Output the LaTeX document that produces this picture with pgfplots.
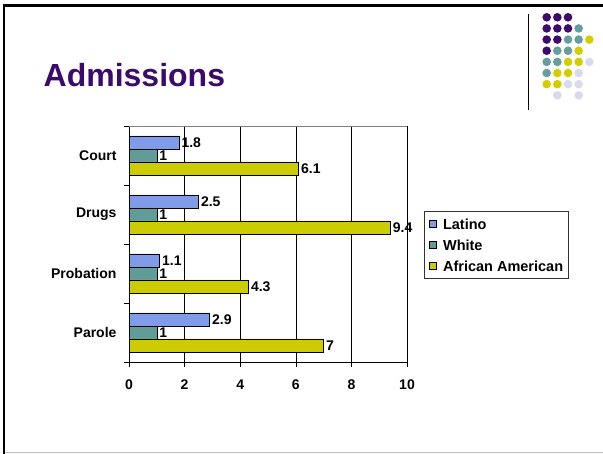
\documentclass[border=0pt]{standalone}
\usepackage{fontspec}
\setmainfont{Liberation Sans}
\usepackage{pgfplots}
\pgfplotsset{compat=1.18}
\definecolor{colLatino}{RGB}{128,156,232}
\definecolor{colWhite}{RGB}{96,156,152}
\definecolor{colAfam}{RGB}{204,204,0}
\definecolor{dP}{RGB}{62,10,110}
\definecolor{dT}{RGB}{102,158,158}
\definecolor{dY}{RGB}{212,206,0}
\definecolor{dL}{RGB}{218,218,238}
\definecolor{titlecol}{RGB}{60,10,108}
\pgfplotsset{sqleg/.style={legend image code/.code={\draw[##1,draw=black,line width=0.6bp] (0bp,-3.8bp) rectangle (7.6bp,3.8bp);}}}
\begin{document}
\begin{tikzpicture}[x=1bp,y=1bp]
\path[use as bounding box] (0,0) rectangle (603,454);
% slide frame
\draw[black!25,line width=1bp] (3,1.3) -- (603,1.3);
\draw[black,line width=2.5bp] (4,0) -- (4,449.5);
\draw[black,line width=2.2bp] (2.8,448.5) -- (603,448.5);
% title
\node[anchor=base west,inner sep=0,text=titlecol,font=\fontsize{32bp}{36bp}\selectfont\bfseries] at (43.5,367.3) {Admissions};
% decoration
\draw[black,line width=1.1bp] (528.3,440) -- (528.3,344);
\foreach \c/\r/\col in {1/1/dP,2/1/dP,3/1/dP,
 1/2/dP,2/2/dP,3/2/dP,4/2/dT,
 1/3/dP,2/3/dP,3/3/dT,4/3/dT,5/3/dY,
 1/4/dP,2/4/dT,3/4/dT,4/4/dY,
 1/5/dT,2/5/dT,3/5/dY,4/5/dY,5/5/dL,
 1/6/dT,2/6/dY,3/6/dY,4/6/dL,
 1/7/dY,2/7/dY,3/7/dL,4/7/dL,
 2/8/dL,4/8/dL}{
  \fill[\col] ({546.7+10.65*(\c-1)},{454-17.3-11.15*(\r-1)}) circle (4.3);
}
\begin{axis}[
  at={(129bp,92bp)}, anchor=south west,
  scale only axis, width=278bp, height=236bp,
  xbar=0pt, bar width=13bp,
  xmin=0, xmax=10, ymin=-0.5, ymax=3.5, y dir=reverse,
  xtick={0,2,...,10},
  ytick={-0.5,0.5,1.5,2.5,3.5}, yticklabels={},
  extra y ticks={0,1,2,3},
  extra y tick labels={Court,Drugs,Probation,Parole},
  extra y tick style={major tick length=0pt, yticklabel style={xshift=-9bp}},
  xtick pos=bottom, ytick pos=left,
  tick align=outside, major tick length=5bp,
  xmajorgrids, grid style={black, line width=0.6bp},
  axis line style={black, line width=0.8bp},
  tick style={black, line width=0.6bp},
  /pgf/number format/assume math mode=true,
  tick label style={font=\fontsize{14bp}{16bp}\selectfont\bfseries},
  xticklabel style={yshift=-9bp},
  nodes near coords,
  nodes near coords style={font=\fontsize{14bp}{16bp}\selectfont\bfseries, anchor=west, inner sep=2.2bp},
  legend style={at={(1.061,0.640)}, anchor=north west, draw=black!80, line width=0.8bp, fill=white,
    font=\fontsize{14.5bp}{16bp}\selectfont\bfseries, inner sep=4.5bp, row sep=5bp,
    nodes={inner sep=1bp, text height=12.5bp, text depth=1.5bp},
    /tikz/every odd column/.append style={column sep=5bp}},
  legend cell align=left,
  clip=false,
  after end axis/.code={\draw[black!50,line width=0.8bp] (axis description cs:0,1) -- (axis description cs:1,1);},
]
\addplot[fill=colLatino, draw=black, line width=0.6bp, sqleg, bar shift=13bp] coordinates {(1.8,0) (2.5,1) (1.1,2) (2.9,3)};
\addplot[fill=colWhite, draw=black, line width=0.6bp, sqleg, bar shift=0bp] coordinates {(1,0) (1,1) (1,2) (1,3)};
\addplot[fill=colAfam, draw=black, line width=0.6bp, sqleg, bar shift=-13bp] coordinates {(6.1,0) (9.4,1) (4.3,2) (7,3)};
\legend{Latino, White, African American}
\end{axis}
\end{tikzpicture}
\end{document}
